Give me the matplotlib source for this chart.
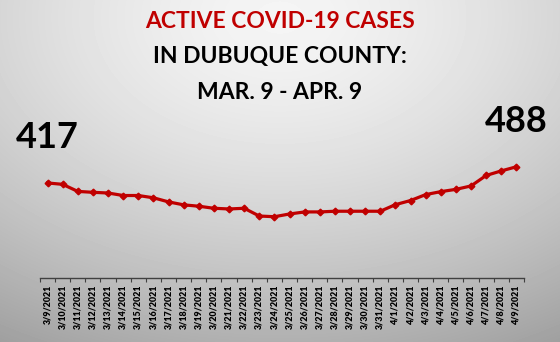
import matplotlib
matplotlib.use("Agg")
import matplotlib.pyplot as plt
import numpy as np

# Daily active cases, Dubuque County
dates = ["3/9/2021", "3/10/2021", "3/11/2021", "3/12/2021", "3/13/2021", "3/14/2021",
         "3/15/2021", "3/16/2021", "3/17/2021", "3/18/2021", "3/19/2021", "3/20/2021",
         "3/21/2021", "3/22/2021", "3/23/2021", "3/24/2021", "3/25/2021", "3/26/2021",
         "3/27/2021", "3/28/2021", "3/29/2021", "3/30/2021", "3/31/2021", "4/1/2021",
         "4/2/2021", "4/3/2021", "4/4/2021", "4/5/2021", "4/6/2021", "4/7/2021",
         "4/8/2021", "4/9/2021"]
cases = [417, 411, 380, 376, 373, 362, 362, 352, 334, 321, 315, 306,
         303, 306, 272, 269, 281, 290, 290, 293, 293, 293, 293, 322,
         340, 366, 379, 389, 404, 450, 470, 488]

red = "#C00000"
font = "Lato"

fig = plt.figure(figsize=(5.6, 3.42), dpi=100)

# gray radial background, lighter near the top middle
bg = fig.add_axes([0, 0, 1, 1])
yy, xx = np.mgrid[0:1:342j, 0:1:560j]
r = np.sqrt(((xx - 0.5) * 1.0) ** 2 + ((yy - 0.05) * 0.9) ** 2)
shade = 0.96 - 0.34 * np.clip(r, 0, 1) ** 1.5
bg.imshow(shade, cmap="gray", vmin=0, vmax=1, aspect="auto", extent=[0, 1, 1, 0])
bg.axis("off")

ax = fig.add_axes([0.0714, 0.187, 0.8643, 0.4])
ax.patch.set_alpha(0)
x = np.arange(len(dates))
ax.plot(x, cases, color=red, lw=2.3, marker="D", ms=3.4, mec=red, mfc=red)

ax.set_xlim(-0.5, len(dates) - 0.5)
ax.set_ylim(0, 600)
ax.set_yticks([])
for s in ["top", "right", "left"]:
    ax.spines[s].set_visible(False)
ax.spines["bottom"].set_color("#404040")
ax.spines["bottom"].set_linewidth(1.0)

# labels at category centres, ticks between categories
ax.set_xticks(x)
ax.set_xticklabels(dates, rotation=90, fontsize=6.4, fontweight="heavy", family=font)
ax.tick_params(axis="x", which="major", length=0, pad=5)
ax.set_xticks(np.arange(-0.5, len(dates)), minor=True)
ax.tick_params(axis="x", which="minor", length=3, width=0.8, color="#404040")

# first and last values
for i in [0, len(cases) - 1]:
    ax.annotate(str(cases[i]), (x[i], cases[i]), xytext=(0, 21), textcoords="offset points",
                ha="center", va="bottom", fontsize=26, fontweight="bold", family=font,
                annotation_clip=False)

fig.text(0.5, 1 - 22 / 342, "ACTIVE COVID-19 CASES", color=red, ha="center", va="center",
         fontsize=16.5, fontweight="bold", family=font)
fig.text(0.5, 1 - 57 / 342, "IN DUBUQUE COUNTY:", color="black", ha="center", va="center",
         fontsize=16.5, fontweight="bold", family=font)
fig.text(0.5, 1 - 93 / 342, "MAR. 9 - APR. 9", color="black", ha="center", va="center",
         fontsize=16.5, fontweight="bold", family=font)

fig.savefig("out.png", dpi=100)
